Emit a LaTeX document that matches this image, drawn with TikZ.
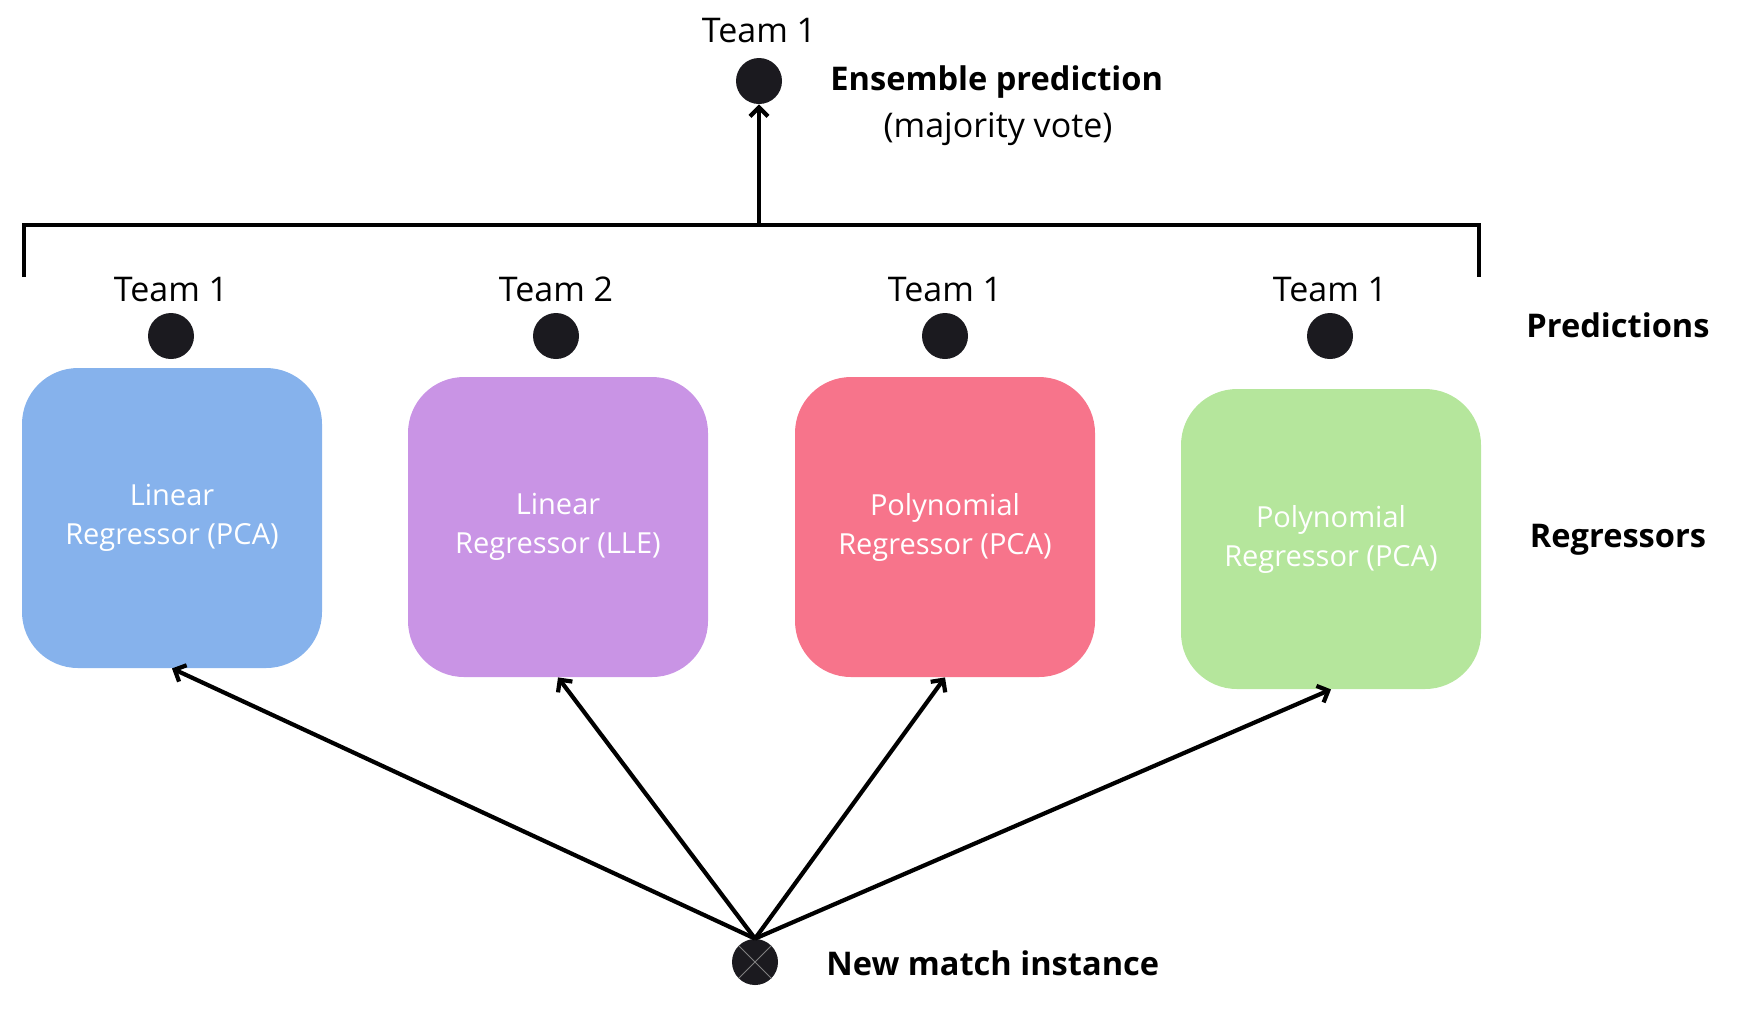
\documentclass[tikz,border=0pt]{standalone}
\usepackage{fontspec}
\setmainfont{Open Sans}
\usetikzlibrary{positioning,arrows.meta}

\definecolor{dotgray}{HTML}{1B1A1F}
\definecolor{pcablue}{HTML}{86B2EC}
\definecolor{llepurple}{HTML}{C994E5}
\definecolor{polyred}{HTML}{F7748B}
\definecolor{polygreen}{HTML}{B5E69C}

\begin{document}
\begin{tikzpicture}[
        x=0.5pt, y=-0.5pt,
        regbox/.style={rectangle, rounded corners=28pt, minimum width=150pt, minimum height=150pt, text=white, align=center, font=\fontsize{14.5}{19.5}\selectfont},
        vote/.style={circle, fill=dotgray, minimum size=23pt, inner sep=0pt},
        team/.style={inner sep=0pt, font=\fontsize{17}{20}\selectfont},
        tag/.style={inner sep=0pt, font=\fontsize{16.3}{20}\selectfont\bfseries},
        link/.style={line width=2.1pt, -{Straight Barb[length=4.5pt,width=9pt,line width=2.1pt]}},
        node distance= 5pt and 24pt
        ]
        \useasboundingbox (0,0) rectangle (1738,1009);

        \node[regbox, fill=pcablue]    (pca)    at (172,518)  {Linear\\Regressor (PCA)};
        \node[regbox, fill=llepurple]  (lle)    at (558,527)  {Linear\\Regressor (LLE)};
        \node[regbox, fill=polyred]    (polyA)  at (945,527)  {Polynomial\\Regressor (PCA)};
        \node[regbox, fill=polygreen]  (polyB)  at (1331,539) {Polynomial\\Regressor (PCA)};

        \node[vote]      (vA)      at (171,336)          {};
        \node[vote]      (vB)      at (556,336)          {};
        \node[vote]      (vC)      at (945,336)          {};
        \node[vote]      (vD)      at (1330,336)         {};

        \node[team]      (tA)      [above=of vA]         {Team 1};
        \node[team]      (tB)      [above=of vB]         {Team 2};
        \node[team]      (tC)      [above=of vC]         {Team 1};
        \node[team]      (tD)      [above=of vD]         {Team 1};

        \node[vote]      (ens)     at (759,81)           {};
        \node[team]      (tEns)    [above=7pt of ens]    {Team 1};
        \node[tag, anchor=west]  (ensTxt)  at (830,82)   {Ensemble prediction};
        \node[team]      (vote)    at (998,129)          {(majority vote)};

        \node[tag]       (preds)   at (1618,325)         {Predictions};
        \node[tag]       (regs)    at (1618,540)         {Regressors};

        \node[vote, path picture={
            \draw[gray, line width=0.4pt] (path picture bounding box.north west) -- (path picture bounding box.south east);
            \draw[gray, line width=0.4pt] (path picture bounding box.north east) -- (path picture bounding box.south west);
        }]               (new)     at (755,962)          {};
        \node[tag, anchor=west]  (newTxt)  at (826,963)  {New match instance};

        %Bracket
        \coordinate (bl) at (24,277);
        \coordinate (tl) at (24,225);
        \coordinate (tr) at (1479,225);
        \coordinate (br) at (1479,277);
        \coordinate (bm) at (759,225);
        \draw[line width=2.1pt] (bl) -- (tl) -- (tr) -- (br);
        \draw[link] (bm) -- (ens);

        %Lines
        \draw[link] (new.north) -- (pca.south);
        \draw[link] (new.north) -- (lle.south);
        \draw[link] (new.north) -- (polyA.south);
        \draw[link] (new.north) -- (polyB.south);

    \end{tikzpicture}
\end{document}
